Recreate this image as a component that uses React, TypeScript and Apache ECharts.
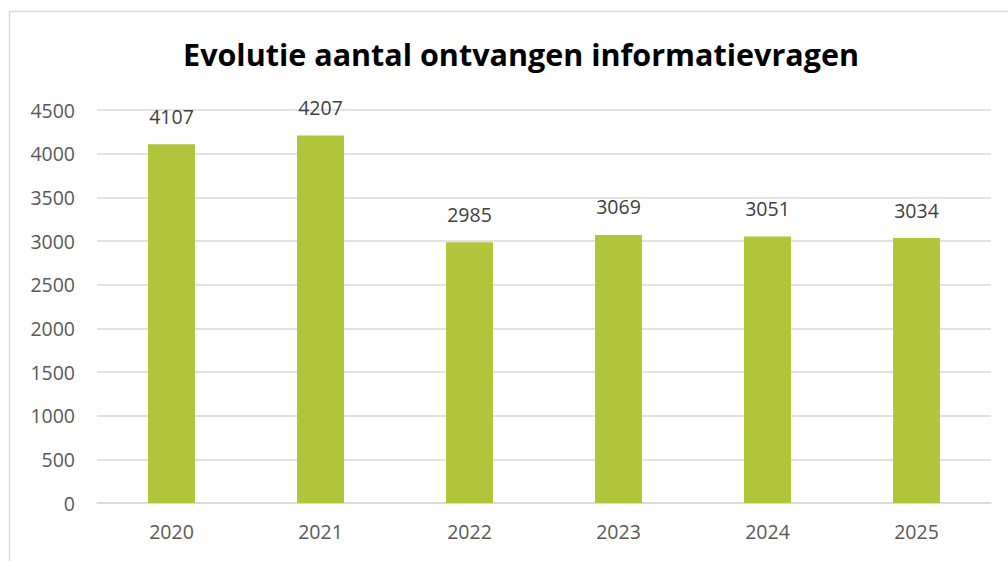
import React, { useEffect, useRef } from "react";
import * as echarts from "echarts";

const categories = ["2020", "2021", "2022", "2023", "2024", "2025"];
const values = [4107, 4207, 2985, 3069, 3051, 3034];
const titleText = "Evolutie aantal ontvangen informatievragen";

export default function App() {
  const ref = useRef<HTMLDivElement>(null);
  useEffect(() => {
    document.body.style.margin = "0";
    const chart = echarts.init(ref.current!, null, { renderer: "svg" });
    chart.setOption({
      animation: false,
      backgroundColor: "#ffffff",
      title: {
        text: titleText,
        left: 516,
        textAlign: "center",
        top: 33,
        textStyle: { fontFamily: "Open Sans", fontWeight: "bold", fontSize: 30.5, color: "#000000" },
      },
      graphic: [
        {
          type: "rect",
          shape: { x: 9.5, y: 11.5, width: 1100, height: 700 },
          style: { fill: "none", stroke: "#d9d9d9", lineWidth: 1.5 },
          silent: true,
        },
      ],
      grid: { left: 97, right: 17, top: 110, bottom: 58, containLabel: false },
      xAxis: {
        type: "category",
        data: categories,
        axisLine: { lineStyle: { color: "#d9d9d9", width: 1.5 } },
        axisTick: { show: false },
        axisLabel: { color: "#595959", fontSize: 19.5, fontFamily: "Open Sans", margin: 18 },
      },
      yAxis: {
        type: "value",
        min: 0,
        max: 4500,
        interval: 500,
        axisLine: { show: false },
        axisTick: { show: false },
        axisLabel: {
          color: "#595959",
          fontSize: 19.5,
          fontFamily: "Open Sans",
          margin: 22,
          formatter: (v: number) => String(v),
        },
        splitLine: { lineStyle: { color: "#d9d9d9", width: 1.5 } },
      },
      series: [
        {
          type: "bar",
          data: values,
          barWidth: "31.5%",
          itemStyle: { color: "#b1c53a" },
          label: {
            show: true,
            position: "top",
            distance: 18,
            color: "#404040",
            fontSize: 19.5,
            fontFamily: "Open Sans",
          },
        },
      ],
    });
    return () => chart.dispose();
  }, []);
  return <div ref={ref} style={{ position: "absolute", left: 0, top: 0, width: 1008, height: 561 }} />;
}
